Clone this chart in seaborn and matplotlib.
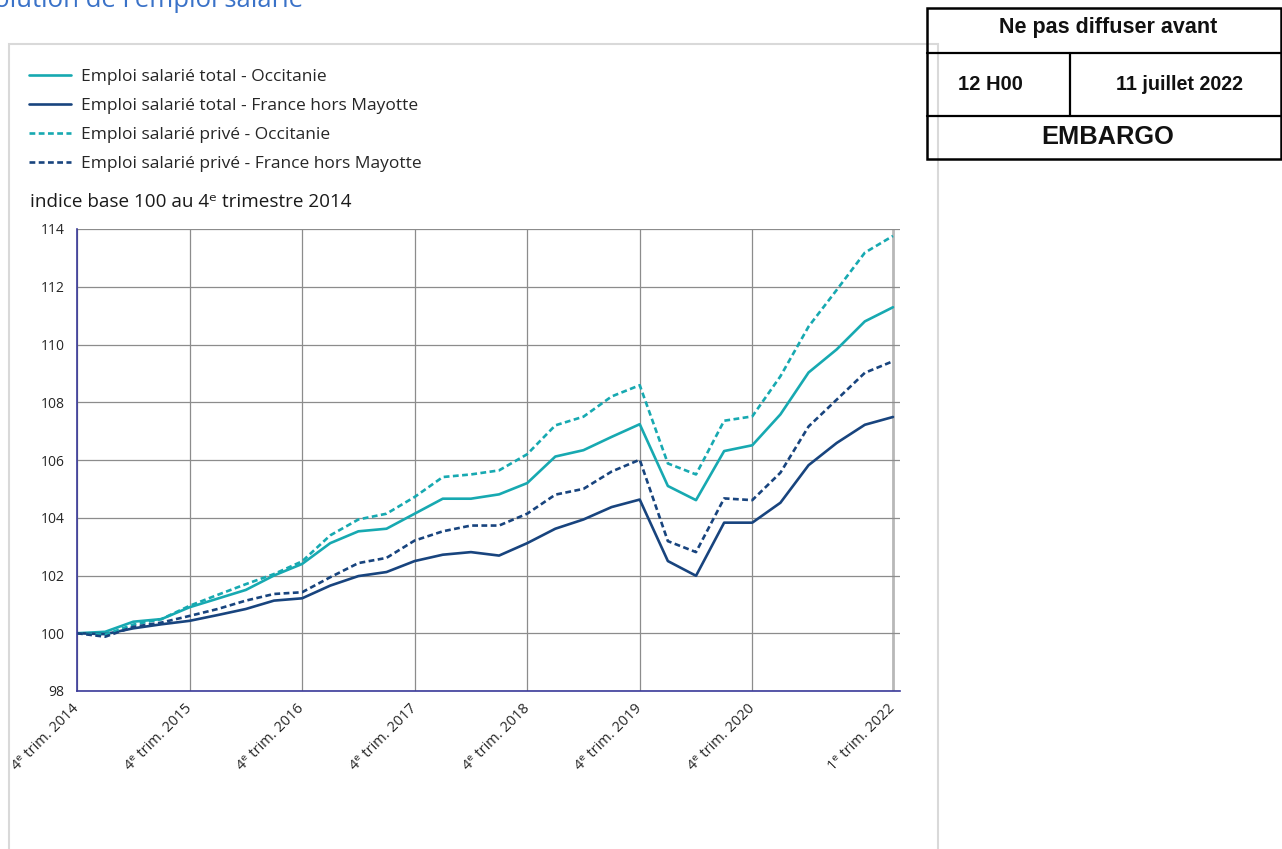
import pandas as pd
import seaborn as sns
import matplotlib.pyplot as plt
from matplotlib.lines import Line2D
from matplotlib.patches import Rectangle

# data: quarterly index, base 100 at 4th quarter 2014 (2014Q4 .. 2022Q1)
quarters = list(range(30))
total_occitanie = [100.0, 100.05, 100.4, 100.49, 100.9, 101.2, 101.5, 102.0, 102.4,
                   103.12, 103.53, 103.62, 104.14, 104.66, 104.66, 104.81, 105.2,
                   106.12, 106.34, 106.8, 107.24, 105.1, 104.61, 106.31, 106.51,
                   107.58, 109.03, 109.83, 110.8, 111.29]
total_france = [100.0, 99.97, 100.17, 100.31, 100.43, 100.63, 100.84, 101.13, 101.21,
                101.65, 101.98, 102.12, 102.5, 102.72, 102.81, 102.69, 103.12,
                103.62, 103.94, 104.37, 104.63, 102.5, 101.99, 103.83, 103.83,
                104.52, 105.82, 106.59, 107.22, 107.49]
prive_occitanie = [100.0, 99.95, 100.3, 100.49, 100.95, 101.33, 101.7, 102.05, 102.49,
                   103.39, 103.94, 104.14, 104.72, 105.41, 105.5, 105.64, 106.2,
                   107.2, 107.5, 108.2, 108.59, 105.88, 105.5, 107.36, 107.51,
                   108.9, 110.62, 111.89, 113.18, 113.76]
prive_france = [100.0, 99.88, 100.22, 100.37, 100.6, 100.84, 101.13, 101.36, 101.42,
                101.94, 102.43, 102.61, 103.21, 103.53, 103.73, 103.73, 104.14,
                104.8, 105.0, 105.6, 106.01, 103.19, 102.81, 104.67, 104.61,
                105.56, 107.16, 108.09, 109.02, 109.42]

series_names = ['Emploi salarié total - Occitanie',
                'Emploi salarié total - France hors Mayotte',
                'Emploi salarié privé - Occitanie',
                'Emploi salarié privé - France hors Mayotte']
tick_pos = [0, 4, 8, 12, 16, 20, 24, 29]
tick_labels = ['4ᵉ trim. 2014', '4ᵉ trim. 2015', '4ᵉ trim. 2016', '4ᵉ trim. 2017',
               '4ᵉ trim. 2018', '4ᵉ trim. 2019', '4ᵉ trim. 2020', '1ᵉ trim. 2022']

TEAL = '#17a9b1'
NAVY = '#18447e'
DASH = (2.2, 1.3)

frames = []
for name, vals in zip(series_names, [total_occitanie, total_france, prive_occitanie, prive_france]):
    frames.append(pd.DataFrame({'trimestre': quarters, 'indice': vals, 'serie': name}))
df = pd.concat(frames, ignore_index=True)

sns.set_style('white')
plt.rcParams['font.family'] = ['Open Sans', 'DejaVu Sans']

W, H = 1282, 849
fig = plt.figure(figsize=(W / 100, H / 100), dpi=100)

def fx(px):
    return px / W

def fy(py):
    return 1 - py / H

ax = fig.add_axes([fx(77), fy(691), fx(900) - fx(77), fy(229) - fy(691)])

palette = dict(zip(series_names, [TEAL, NAVY, TEAL, NAVY]))
dashes = dict(zip(series_names, ['', '', DASH, DASH]))
sns.lineplot(data=df, x='trimestre', y='indice', hue='serie', style='serie',
             palette=palette, dashes=dashes, linewidth=1.9, ax=ax, legend=False)

ax.set_xlim(0, 29.25)
ax.set_ylim(98, 114)
ax.set_yticks(range(98, 115, 2))
ax.set_xticks(tick_pos)
ax.set_xticklabels(tick_labels, rotation=45, ha='right', va='center',
                   rotation_mode='anchor', fontsize=10.5)
ax.tick_params(axis='y', labelsize=10, length=5, color='#999999', direction='out', pad=4)
ax.tick_params(axis='x', length=5, color='#999999', direction='out', pad=6)
ax.set_xlabel('')
ax.set_ylabel('')
ax.grid(True, color='#8c8c8c', linewidth=0.9)
# last quarter gridline is lighter and wider in the original
xgrid = ax.get_xgridlines()
xgrid[-1].set_color('#b8b8b8')
xgrid[-1].set_linewidth(2.0)
for s in ['top', 'right']:
    ax.spines[s].set_visible(False)
for s in ['left', 'bottom']:
    ax.spines[s].set_color('#3a3a9a')
    ax.spines[s].set_linewidth(1.2)

# y unit label
fig.text(fx(30), fy(202), 'indice base 100 au 4ᵉ trimestre 2014', fontsize=13.6,
         va='center', ha='left', color='#1a1a1a')

# legend
handles = []
for c, d in zip([TEAL, NAVY, TEAL, NAVY], [None, None, DASH, DASH]):
    h = Line2D([], [], color=c, lw=1.9)
    if d is not None:
        h.set_dashes(d)
    handles.append(h)
fig.legend(handles, series_names, loc='upper left', bbox_to_anchor=(fx(22), fy(62)),
           frameon=False, fontsize=12.5, handlelength=2.45, handletextpad=0.55,
           labelspacing=0.74, borderaxespad=0)

# outer chart frame
fig.add_artist(Rectangle((fx(9), fy(870)), fx(938) - fx(9), fy(44) - fy(870),
                         transform=fig.transFigure, fill=False, edgecolor='#d9d9d9', lw=1.5))

# title, cropped at the top of the picture
fig.text(fx(-33), fy(7), "Évolution de l'emploi salarié", fontsize=18.5, color='#3a72c8',
         ha='left', va='baseline')

# embargo box
box_kw = dict(transform=fig.transFigure, color='black', lw=1.6)
fig.add_artist(Rectangle((fx(927), fy(159)), fx(1281) - fx(927), fy(8) - fy(159),
                         transform=fig.transFigure, fill=False, edgecolor='black', lw=1.8))
fig.add_artist(Line2D([fx(927), fx(1281)], [fy(53), fy(53)], **box_kw))
fig.add_artist(Line2D([fx(927), fx(1281)], [fy(116), fy(116)], **box_kw))
fig.add_artist(Line2D([fx(1070), fx(1070)], [fy(53), fy(116)], **box_kw))
bold = dict(family='Liberation Sans', weight='bold', ha='center', va='center', color='#111111')
fig.text(fx(1108), fy(27), 'Ne pas diffuser avant', fontsize=15.5, **bold)
fig.text(fx(990), fy(84), '12 H00', fontsize=14.5, **bold)
fig.text(fx(1179), fy(84), '11 juillet 2022', fontsize=14.2, **bold)
fig.text(fx(1108), fy(137), 'EMBARGO', fontsize=18.3, **bold)

fig.savefig('out.png', dpi=100)
